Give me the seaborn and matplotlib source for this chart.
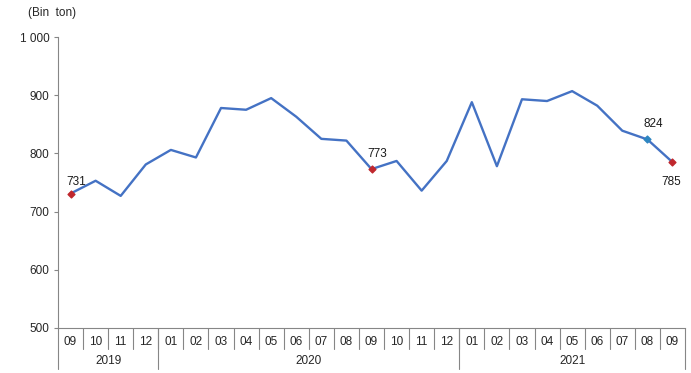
import numpy as np
import pandas as pd
import matplotlib
matplotlib.use("Agg")
import matplotlib.pyplot as plt
import seaborn as sns

# -----------------------------
# DATA
# -----------------------------

months = ["09", "10", "11", "12",
          "01", "02", "03", "04", "05", "06", "07", "08", "09", "10", "11", "12",
          "01", "02", "03", "04", "05", "06", "07", "08", "09"]
values = [731, 753, 727, 781,
          806, 793, 878, 875, 895, 863, 825, 822, 773, 787, 736, 787,
          888, 778, 893, 890, 907, 882, 839, 824, 785]
years = ["2019", "2020", "2021"]
year_counts = [4, 12, 9]

# points that get a label: index -> colour
red_points = [0, 12, 24]
blue_points = [23]

df = pd.DataFrame({"idx": np.arange(len(values)), "value": values})

# -----------------------------
# FIGURE
# -----------------------------

sns.set_style("white")
plt.rcParams["font.family"] = ["Liberation Sans", "DejaVu Sans"]

fig = plt.figure(figsize=(6.91, 3.73), dpi=100)
ax = fig.add_axes([58 / 691, 45 / 373, 627 / 691, 291 / 373])

sns.lineplot(data=df, x="idx", y="value", ax=ax, color="#4472C4",
             linewidth=1.7, legend=False)

red = df.iloc[red_points]
ax.scatter(red["idx"], red["value"], marker="D", s=12, color="#C0272D", zorder=5)
blue = df.iloc[blue_points]
ax.scatter(blue["idx"], blue["value"], marker="D", s=12, color="#2E86C1", zorder=5)

# value labels
label_offsets = {0: (4, 8), 12: (4, 11), 23: (4, 11), 24: (-1, -14)}
for i, (dx, dy) in label_offsets.items():
    ax.annotate(str(values[i]), (i, values[i]), xytext=(dx, dy),
                textcoords="offset points", ha="center", va="center",
                fontsize=8.5, color="#1a1a1a")

ax.set_xlim(-0.5, len(values) - 0.5)
ax.set_ylim(500, 1000)
ax.set_yticks([500, 600, 700, 800, 900, 1000])
ax.set_yticklabels(["500", "600", "700", "800", "900", "1 000"], fontsize=8.5)
ax.set_xticks([])
ax.set_xlabel("")
ax.set_ylabel("")

for side in ["top", "right"]:
    ax.spines[side].set_visible(False)
ax.spines["left"].set_color("#868686")
ax.spines["bottom"].set_color("#868686")
ax.spines["left"].set_bounds(500, 1000)
ax.tick_params(axis="y", left=True, length=3, color="#868686", pad=3)

# category axis: months and years
trans = ax.get_xaxis_transform()
for i, m in enumerate(months):
    ax.text(i, -0.048, m, transform=trans, ha="center", va="center", fontsize=8.5)
    if i > 0:
        ax.plot([i - 0.5, i - 0.5], [0, -0.073], transform=trans,
                color="#868686", lw=0.8, clip_on=False)

start = 0
bounds = [-0.5]
for y, n in zip(years, year_counts):
    ax.text(start + (n - 1) / 2, -0.114, y, transform=trans,
            ha="center", va="center", fontsize=8.5)
    start += n
    bounds.append(start - 0.5)
for b in bounds:
    ax.plot([b, b], [0, -0.142], transform=trans,
            color="#868686", lw=0.8, clip_on=False)

fig.text(28 / 691, 1 - 13 / 373, "(Bin  ton)", ha="left", va="center", fontsize=8.5)

plt.savefig("out.png", dpi=100)
